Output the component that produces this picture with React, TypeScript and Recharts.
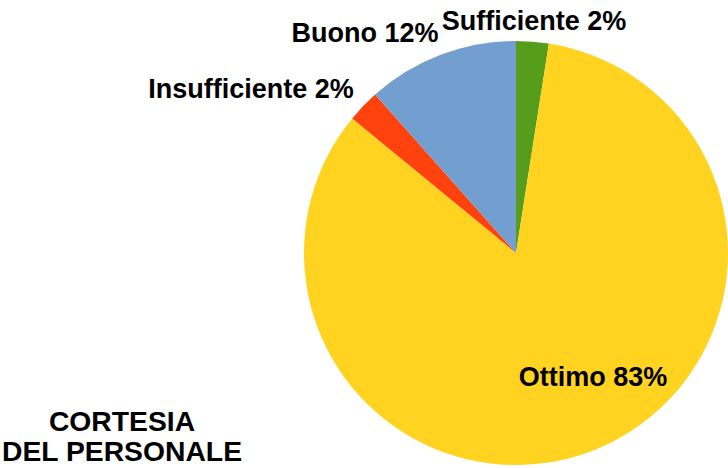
import { PieChart, Pie, Cell, type PieLabelRenderProps } from "recharts";

const RADIAN = Math.PI / 180;

// slices in clockwise order starting at 12 o'clock
const categories = ["Sufficiente", "Ottimo", "Insufficiente", "Buono"];
const counts = [3, 101, 3, 14];
const colors = ["#579d1c", "#ffd320", "#ff420e", "#729fcf"];
const titleLines = ["CORTESIA", "DEL PERSONALE"];

const data = categories.map((name, i) => ({ name, value: counts[i] }));

const FONT = "'Liberation Sans', Arial, sans-serif";

const renderLabel = ({
  cx,
  cy,
  midAngle,
  outerRadius,
  percent,
  name,
}: PieLabelRenderProps) => {
  if (cx == null || cy == null || outerRadius == null) return null;
  const ncx = Number(cx);
  const ncy = Number(cy);
  const r = Number(outerRadius);
  const ang = midAngle ?? 0;
  const cos = Math.cos(-ang * RADIAN);
  const sin = Math.sin(-ang * RADIAN);
  const text = `${name} ${Math.round((percent ?? 0) * 100)}%`;
  const style = { fontSize: 27, fontWeight: 700, fontFamily: FONT };

  if ((percent ?? 0) > 0.5) {
    // big slice: label inside
    const x = ncx + r * 0.69 * cos + 25;
    const y = ncy + r * 0.69 * sin - 13;
    return (
      <text x={x} y={y} fill="#000" textAnchor="middle" dominantBaseline="central" style={style}>
        {text}
      </text>
    );
  }

  const rr = r + 20;
  const anchor = cos > 0.1 ? "start" : cos < -0.1 ? "end" : "middle";
  const x = ncx + rr * cos + (anchor === "end" ? 5 : 0);
  const y = ncy + rr * sin - (anchor === "end" ? 3 : 1);
  return (
    <text x={x} y={y} fill="#000" textAnchor={anchor} dominantBaseline="central" style={style}>
      {text}
    </text>
  );
};

export default function App() {
  return (
    <div
      style={{
        position: "absolute",
        left: 0,
        top: 0,
        width: 728,
        height: 468,
        background: "#fff",
        overflow: "hidden",
      }}
    >
      <PieChart width={728} height={468} margin={{ top: 0, right: 0, bottom: 0, left: 0 }}>
        <Pie
          data={data}
          dataKey="value"
          nameKey="name"
          cx={516}
          cy={253}
          outerRadius={212}
          startAngle={90}
          endAngle={-270}
          stroke="none"
          labelLine={false}
          label={renderLabel}
          isAnimationActive={false}
        >
          {data.map((d, i) => (
            <Cell key={d.name} fill={colors[i]} />
          ))}
        </Pie>
      </PieChart>
      <div
        style={{
          position: "absolute",
          left: 0,
          top: 406,
          width: 244,
          textAlign: "center",
          fontFamily: FONT,
          fontWeight: 700,
          fontSize: 28.3,
          lineHeight: "30px",
          color: "#000",
        }}
      >
        {titleLines.map((t) => (
          <div key={t}>{t}</div>
        ))}
      </div>
    </div>
  );
}
